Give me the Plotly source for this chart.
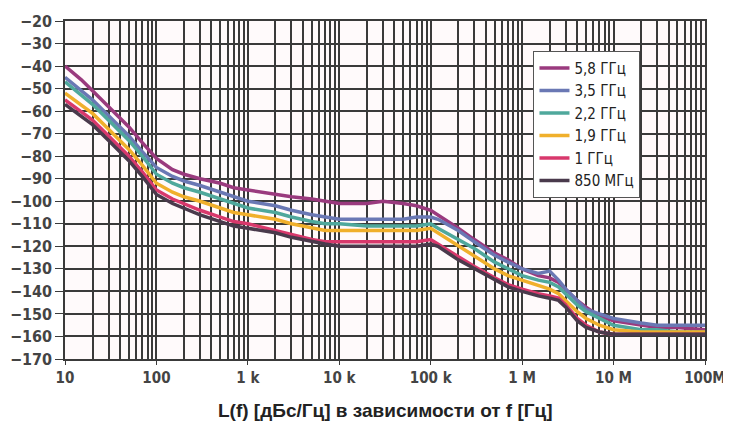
import plotly.graph_objects as go

freqs = [10, 15, 20, 30, 50, 70, 100, 150, 200, 300, 500, 700,
         1e3, 2e3, 3e3, 5e3, 7e3, 1e4, 2e4, 3e4, 5e4, 7e4,
         1e5, 1.2e5, 2e5, 3e5, 5e5, 7e5, 1e6, 1.5e6, 2e6, 2.5e6,
         3e6, 4e6, 5e6, 7e6, 1e7, 2e7, 3e7, 5e7, 1e8]

s_5800 = [-40, -46, -51, -58, -67, -74, -81, -86, -88, -90, -92, -94,
          -95, -97, -98, -99, -100, -101, -101, -100, -101, -102,
          -104, -106, -112, -117, -123, -126, -130, -133, -134, -136,
          -139, -144, -147, -151, -153, -155, -156, -156, -157]
s_3500 = [-45, -51, -55, -62, -71, -78, -85, -89, -91, -93, -96, -98,
          -100, -102, -104, -106, -107, -108, -108, -108, -108, -107,
          -107, -108, -113, -118, -124, -127, -130, -132, -131, -135,
          -139, -144, -148, -150, -152, -154, -155, -155, -155]
s_2200 = [-47, -53, -57, -64, -73, -80, -88, -92, -94, -96, -99, -101,
          -103, -105, -107, -109, -110, -110, -111, -111, -111, -111,
          -110, -112, -117, -121, -127, -130, -133, -135, -136, -138,
          -141, -146, -149, -152, -155, -157, -157, -158, -158]
s_1900 = [-52, -57, -61, -68, -77, -84, -92, -96, -98, -100, -103, -105,
          -106, -108, -110, -112, -113, -113, -113, -113, -113, -113,
          -112, -114, -120, -124, -130, -133, -135, -137, -139, -141,
          -144, -149, -152, -155, -157, -158, -158, -158, -158]
s_1000 = [-55, -60, -64, -71, -80, -87, -95, -99, -101, -104, -107, -109,
          -110, -113, -115, -117, -118, -118, -118, -118, -118, -118,
          -117, -119, -125, -129, -134, -137, -139, -141, -142, -143,
          -146, -152, -155, -158, -159, -159, -159, -159, -159]
s_850 = [-57, -62, -66, -73, -82, -89, -97, -101, -103, -106, -109, -111,
         -112, -114, -116, -118, -119, -120, -120, -120, -120, -120,
         -119, -120, -126, -130, -135, -138, -140, -142, -143, -144,
         -147, -153, -156, -158, -159, -159, -159, -159, -159]

names = ["5,8 ГГц", "3,5 ГГц", "2,2 ГГц", "1,9 ГГц", "1 ГГц", "850 МГц"]
series = [s_5800, s_3500, s_2200, s_1900, s_1000, s_850]
colors = ["#9a3a7e", "#6a78b4", "#4fa89c", "#f0b02c", "#d8386c", "#4a3a4c"]

x_tickvals = [10, 100, 1e3, 1e4, 1e5, 1e6, 1e7, 1e8]
x_ticktext = ["10", "100", "1 k", "10 k", "100 k", "1 M", "10 M", "100M"]
minor_vals = [m * 10 ** e for e in range(1, 8) for m in range(2, 10)]

fig = go.Figure()
for name, ys, c in zip(names, series, colors):
    fig.add_trace(go.Scatter(x=freqs, y=ys, mode="lines", name=name,
                             line=dict(color=c, width=3.5)))

tick_font = "DejaVu Sans Condensed, Liberation Sans"
gridc = "#3a3a3a"

# page body adds an 8px offset; figure sized so it fits the 731x436 window
fig.update_layout(
    width=723, height=428,
    margin=dict(l=57, r=26, t=13, b=77),
    paper_bgcolor="white", plot_bgcolor="#fffafb",
    font=dict(family=tick_font, size=16, color="#444444"),
    showlegend=True,
    legend=dict(x=0.732, y=0.912, xanchor="left", yanchor="top",
                bgcolor="white", bordercolor="#555555", borderwidth=1,
                font=dict(family="DejaVu Sans Condensed, Liberation Sans", size=15,
                          color="#222222"),
                tracegroupgap=0, itemwidth=30),
    xaxis=dict(type="log", range=[1, 8], tickvals=x_tickvals, ticktext=x_ticktext,
               showgrid=True, gridcolor=gridc, gridwidth=1.5,
               ticks="outside", ticklen=4, tickcolor=gridc, automargin=False,
               minor=dict(tickvals=minor_vals, showgrid=True, gridcolor=gridc,
                          gridwidth=1.5, ticks=""),
               zeroline=False, showline=True, linecolor=gridc, linewidth=1.5,
               tickfont=dict(size=15, color="#444444",
                             family="DejaVu Sans Condensed, Liberation Sans",
                             weight="bold"),
               mirror=True),
    yaxis=dict(range=[-170, -20], dtick=10, showgrid=True, gridcolor=gridc,
               gridwidth=1.5, ticks="outside", ticklen=8, tickcolor=gridc,
               automargin=False,
               zeroline=False, showline=True, linecolor=gridc, linewidth=1.5,
               tickfont=dict(size=16, color="#444444",
                             family="DejaVu Sans Condensed, Liberation Sans",
                             weight="bold"),
               mirror=True),
    annotations=[dict(text="<b>L(f) [дБс/Гц] в зависимости от f [Гц]</b>",
                      x=0.5, y=-0.151, xref="paper", yref="paper",
                      xanchor="center", yanchor="middle", showarrow=False,
                      font=dict(family="Liberation Sans, Arial", size=19,
                                color="#222222"))],
)

fig.write_html("out.html")
